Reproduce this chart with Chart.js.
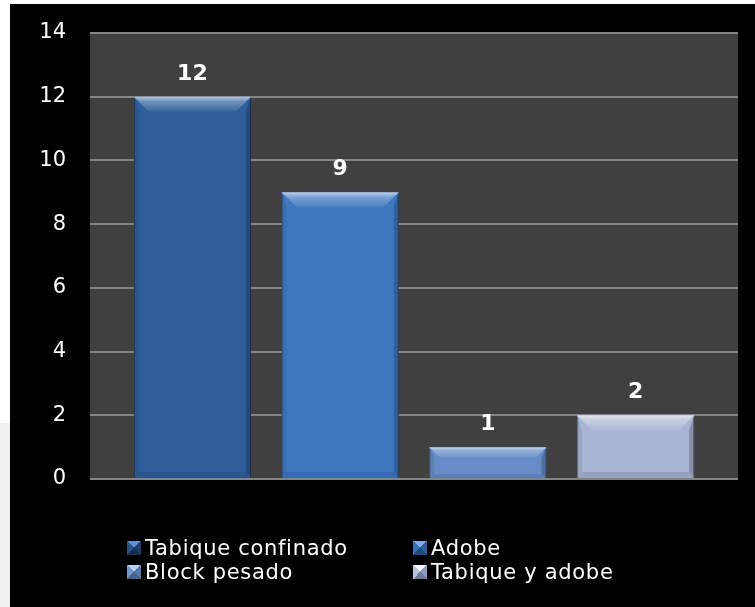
<!DOCTYPE html>
<html>
<head>
<meta charset="utf-8">
<script src="https://cdn.jsdelivr.net/npm/chart.js@4.4.1/dist/chart.umd.min.js"></script>
<style>
  html, body {
    margin: 0;
    padding: 0;
    width: 755px;
    height: 607px;
    overflow: hidden;
    background: linear-gradient(to bottom, #ffffff 0, #ffffff 423px, #eff0f3 423px, #eff0f3 100%);
  }
  #panel {
    position: absolute;
    left: 10px;
    top: 4px;
    width: 745px;
    height: 603px;
    background: #000;
  }
  #chart {
    position: absolute;
    left: 0;
    top: 0;
  }
  #legend {
    position: absolute;
    left: 117px;
    top: 532px;
    display: grid;
    grid-template-columns: 286px auto;
    row-gap: 1px;
    font-family: 'DejaVu Sans', sans-serif;
    font-size: 21px;
    letter-spacing: 0.7px;
    color: #fff;
  }
  .legend-item {
    display: flex;
    align-items: center;
    height: 23px;
    white-space: nowrap;
  }
  .legend-box {
    width: 14px;
    height: 14px;
    margin-right: 4px;
    flex: none;
  }
</style>
</head>
<body>
<div id="panel">
  <canvas id="chart" width="745" height="603"></canvas>
  <div id="legend"></div>
</div>
<script>
// Wall construction types and how many houses use each
const categories = [''];
const seriesNames = ['Tabique confinado', 'Adobe', 'Block pesado', 'Tabique y adobe'];
const seriesValues = [12, 9, 1, 2];
const yTicks = [0, 2, 4, 6, 8, 10, 12, 14];

// Base fill for each series, plus the four faces of its legend swatch
const barColors = ['#2f5e9b', '#3e78c1', '#668dc7', '#a8b6d4'];
const legendTones = [
    ['#5f8fd0', '#1f3f6c', '#16304f', '#2a5186'],
    ['#7fb0ee', '#2f5f9c', '#234a7c', '#3a70b4'],
    ['#b7d0f3', '#5779ad', '#46628e', '#7596c8'],
    ['#f4f6fc', '#8d9abb', '#6f7b97', '#b9c4dc']
];

// Fill the plot area with dark grey before anything else is drawn
const plotBackground = {
    id: 'plotBackground',
    beforeDraw(chart) {
        const { ctx, chartArea } = chart;
        ctx.save();
        ctx.fillStyle = '#404040';
        ctx.fillRect(chartArea.left, chartArea.top, chartArea.right - chartArea.left, chartArea.bottom - chartArea.top);
        ctx.restore();
    }
};

// Beveled edges drawn over each bar
const barBevel = {
    id: 'barBevel',
    afterDatasetsDraw(chart) {
        const ctx = chart.ctx;
        chart.data.datasets.forEach((ds, i) => {
            const meta = chart.getDatasetMeta(i);
            meta.data.forEach(bar => {
                const p = bar.getProps(['x', 'y', 'base', 'width'], true);
                const l = p.x - p.width / 2;
                const r = p.x + p.width / 2;
                const t = p.y;
                const b = p.base;
                const h = b - t;
                const bt = Math.min(15, h / 3);
                const bs = 5;
                const bb = Math.min(6, h / 8);

                ctx.save();
                // top face
                const g = ctx.createLinearGradient(0, t, 0, t + bt);
                g.addColorStop(0, 'rgba(255,255,255,0.65)');
                g.addColorStop(0.3, 'rgba(255,255,255,0.32)');
                g.addColorStop(1, 'rgba(255,255,255,0.06)');
                ctx.fillStyle = g;
                ctx.beginPath();
                ctx.moveTo(l, t);
                ctx.lineTo(r, t);
                ctx.lineTo(r - bt, t + bt);
                ctx.lineTo(l + bt, t + bt);
                ctx.closePath();
                ctx.fill();

                // left face
                ctx.fillStyle = 'rgba(0,0,0,0.08)';
                ctx.beginPath();
                ctx.moveTo(l, t);
                ctx.lineTo(l + bs, t + bt);
                ctx.lineTo(l + bs, b - bb);
                ctx.lineTo(l, b);
                ctx.closePath();
                ctx.fill();

                // right face
                ctx.fillStyle = 'rgba(0,0,0,0.2)';
                ctx.beginPath();
                ctx.moveTo(r, t);
                ctx.lineTo(r - bs, t + bt);
                ctx.lineTo(r - bs, b - bb);
                ctx.lineTo(r, b);
                ctx.closePath();
                ctx.fill();

                // bottom face
                ctx.fillStyle = 'rgba(0,0,0,0.1)';
                ctx.beginPath();
                ctx.moveTo(l, b);
                ctx.lineTo(l + bs, b - bb);
                ctx.lineTo(r - bs, b - bb);
                ctx.lineTo(r, b);
                ctx.closePath();
                ctx.fill();

                // dark outline on the sides
                ctx.strokeStyle = 'rgba(0,0,0,0.35)';
                ctx.lineWidth = 1;
                ctx.beginPath();
                ctx.moveTo(l + 0.5, t + 2);
                ctx.lineTo(l + 0.5, b);
                ctx.moveTo(r - 0.5, t + 2);
                ctx.lineTo(r - 0.5, b);
                ctx.stroke();
                ctx.restore();
            });
        });
    }
};

// Value written above each bar
const valueLabels = {
    id: 'valueLabels',
    afterDatasetsDraw(chart) {
        const ctx = chart.ctx;
        ctx.save();
        ctx.fillStyle = '#ffffff';
        ctx.font = 'bold 22px "DejaVu Sans", sans-serif';
        ctx.textAlign = 'center';
        ctx.textBaseline = 'alphabetic';
        chart.data.datasets.forEach((ds, i) => {
            const meta = chart.getDatasetMeta(i);
            meta.data.forEach((bar, j) => {
                ctx.fillText(String(ds.data[j]), bar.x, bar.y - 17);
            });
        });
        ctx.restore();
    }
};

const datasets = seriesNames.map((name, i) => ({
    label: name,
    data: [seriesValues[i]],
    backgroundColor: barColors[i],
    borderWidth: 0,
    categoryPercentage: 0.912,
    barPercentage: 0.792
}));

new Chart(document.getElementById('chart'), {
    type: 'bar',
    data: {
        labels: categories,
        datasets: datasets
    },
    options: {
        responsive: false,
        animation: false,
        layout: {
            padding: { top: 29, right: 17, bottom: 128, left: 0 }
        },
        plugins: {
            legend: { display: false },
            tooltip: { enabled: false }
        },
        scales: {
            x: {
                display: false
            },
            y: {
                min: 0,
                max: 14,
                afterFit(scale) {
                    scale.width = 80;
                },
                afterBuildTicks(scale) {
                    scale.ticks = yTicks.map(v => ({ value: v }));
                },
                border: { display: false },
                grid: {
                    color: '#858585',
                    lineWidth: 2,
                    drawTicks: true,
                    tickLength: 24,
                    tickColor: 'rgba(0,0,0,0)'
                },
                ticks: {
                    padding: 0,
                    color: '#ffffff',
                    font: { family: '"DejaVu Sans", sans-serif', size: 21 }
                }
            }
        }
    },
    plugins: [plotBackground, barBevel, valueLabels]
});

// Legend in two columns below the plot
const legendEl = document.getElementById('legend');
seriesNames.forEach((name, i) => {
    const item = document.createElement('div');
    item.className = 'legend-item';
    const box = document.createElement('span');
    box.className = 'legend-box';
    const [top, right, bottom, left] = legendTones[i];
    box.style.background = `conic-gradient(from -45deg, ${top} 0deg 90deg, ${right} 90deg 180deg, ${bottom} 180deg 270deg, ${left} 270deg 360deg)`;
    const text = document.createElement('span');
    text.textContent = name;
    item.appendChild(box);
    item.appendChild(text);
    legendEl.appendChild(item);
});
</script>
</body>
</html>
